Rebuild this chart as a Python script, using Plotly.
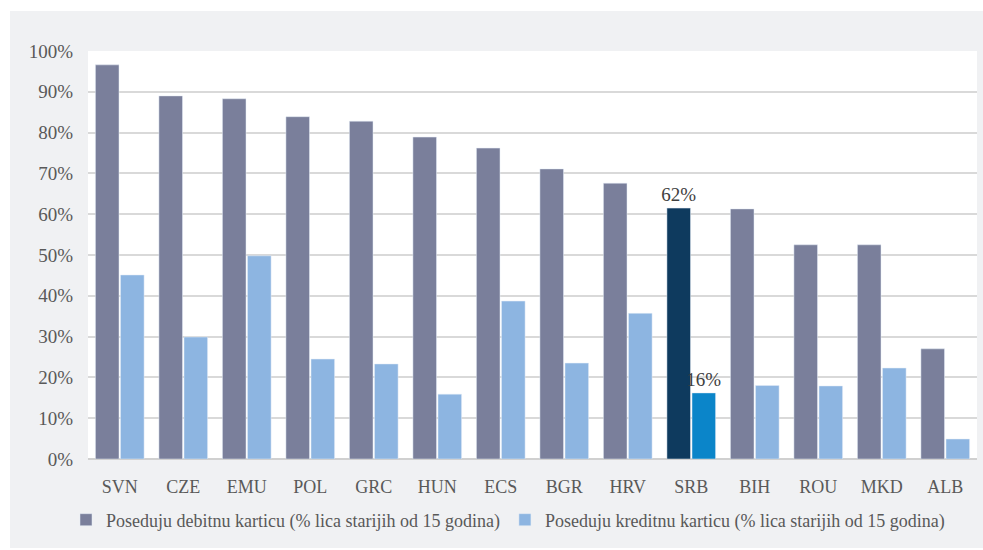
import plotly.graph_objects as go

categories = ["SVN", "CZE", "EMU", "POL", "GRC", "HUN", "ECS", "BGR", "HRV", "SRB", "BIH", "ROU", "MKD", "ALB"]
debit = [96.6, 89.0, 88.3, 83.9, 82.8, 78.9, 76.2, 71.1, 67.6, 61.5, 61.3, 52.5, 52.5, 27.0]
credit = [45.1, 29.9, 49.8, 24.5, 23.3, 15.9, 38.7, 23.5, 35.7, 16.2, 18.0, 17.9, 22.3, 4.9]
debit_name = "Poseduju debitnu karticu (% lica starijih od 15 godina)"
credit_name = "Poseduju kreditnu karticu (% lica starijih od 15 godina)"
highlight = "SRB"

DEBIT_C = "#7a7f9b"
CREDIT_C = "#8db5e1"
DEBIT_H = "#0e3a5e"
CREDIT_H = "#0b85c9"
FONT = "Liberation Serif"

debit_colors = [DEBIT_H if c == highlight else DEBIT_C for c in categories]
credit_colors = [CREDIT_H if c == highlight else CREDIT_C for c in categories]
debit_text = [f"{round(v)}%" if c == highlight else "" for c, v in zip(categories, debit)]
credit_text = [f"{round(v)}%" if c == highlight else "" for c, v in zip(categories, credit)]

fig = go.Figure()
fig.add_trace(go.Bar(x=categories, y=debit, name=debit_name, marker_color=debit_colors,
                     text=debit_text, textposition="outside", cliponaxis=False, constraintext="none",
                     textfont=dict(family=FONT, size=19, color="#404040")))
fig.add_trace(go.Bar(x=categories, y=credit, name=credit_name, marker_color=credit_colors,
                     text=credit_text, textposition="outside", cliponaxis=False, constraintext="none",
                     textfont=dict(family=FONT, size=19, color="#404040")))

L, R, T, B = 88, 6, 51, 91
W, H = 983, 550
pw, ph = W - L - R, H - T - B

def px_x(p):
    return (p - L) / pw

def px_y(p):
    return (H - B - p) / ph

fig.update_layout(
    width=W, height=H,
    margin=dict(l=L, r=R, t=T, b=B),
    paper_bgcolor="white",
    plot_bgcolor="white",
    barmode="group",
    bargap=0.21,
    bargroupgap=0.06,
    font=dict(family=FONT, size=18, color="#595959"),
    showlegend=True,
    legend=dict(orientation="h", x=px_x(508), xanchor="center", y=px_y(520), yanchor="middle",
                font=dict(family=FONT, size=18, color="#595959"), bgcolor="rgba(0,0,0,0)",
                itemwidth=30, tracegroupgap=0),
    shapes=[
        dict(type="rect", xref="paper", yref="paper", x0=px_x(10), x1=px_x(983), y0=px_y(548), y1=px_y(11),
             fillcolor="#f0f1f3", line=dict(width=0), layer="below"),
        dict(type="rect", xref="paper", yref="paper", x0=0, x1=1, y0=0, y1=1,
             fillcolor="white", line=dict(width=0), layer="below"),
    ],
)
fig.update_yaxes(range=[0, 100], dtick=10, ticksuffix="%", showgrid=True, gridcolor="#d9d9d9", gridwidth=1.5,
                 zeroline=True, zerolinecolor="#d0d0d0", zerolinewidth=2, showline=False, ticks="",
                 ticklabelstandoff=14, tickfont=dict(family=FONT, size=19, color="#595959"))
fig.update_xaxes(showgrid=False, showline=False, ticks="", ticklabelstandoff=15,
                 tickfont=dict(family=FONT, size=18, color="#595959"))

fig.write_html("out.html")
